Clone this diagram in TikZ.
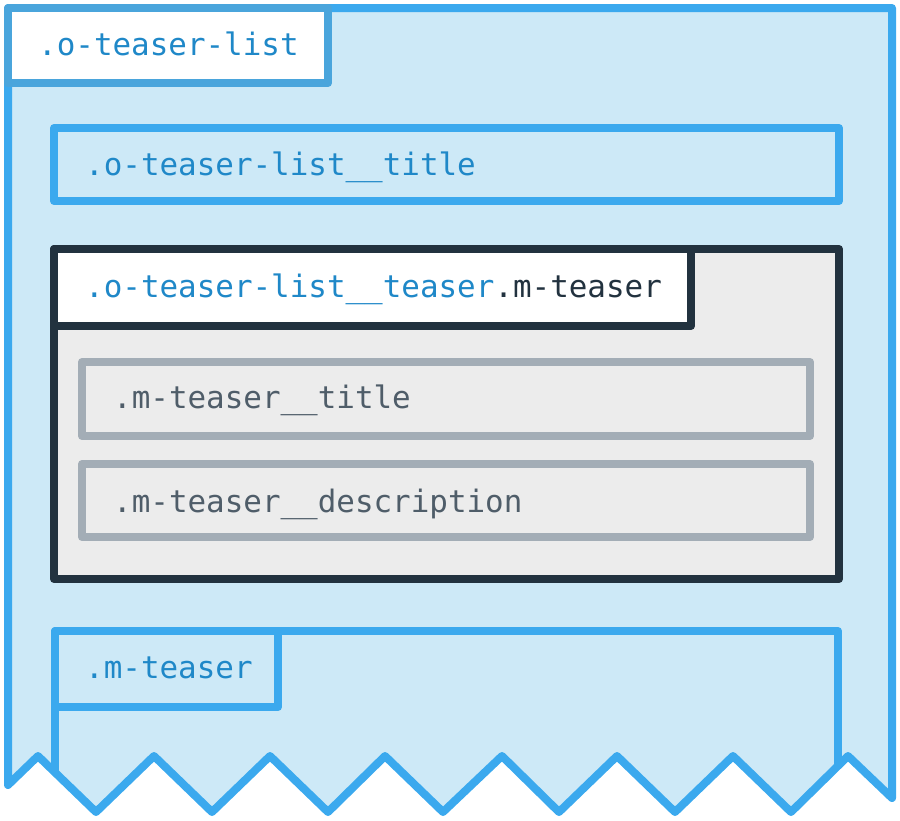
\documentclass[tikz,border=0pt]{standalone}
\usepackage{fontspec}
\setmonofont{DejaVu Sans Mono}
\definecolor{bluestroke}{HTML}{3BA9EE}
\definecolor{tabstroke}{HTML}{4AA5DC}
\definecolor{bluefill}{HTML}{CDE9F7}
\definecolor{bluetext}{HTML}{1F88C8}
\definecolor{darkstroke}{HTML}{22323F}
\definecolor{grayfill}{HTML}{ECECEC}
\definecolor{graystroke}{HTML}{A3ADB6}
\definecolor{graytext}{HTML}{4F5D69}
\tikzset{
  lw/.style={line width=8pt, line join=round},
  boxbase/.style={lw, rectangle, inner sep=0pt, outer sep=0pt, anchor=north west},
  bluebox/.style={boxbase, draw=bluestroke, fill=bluefill},
  whitetab/.style={boxbase, draw=tabstroke, fill=white},
  darkbox/.style={boxbase, draw=darkstroke, fill=grayfill},
  darktab/.style={boxbase, draw=darkstroke, fill=white},
  graybox/.style={boxbase, draw=graystroke, fill=grayfill},
  lbl/.style={anchor=base west, inner sep=0pt, font=\ttfamily\fontsize{30.9}{36}\selectfont},
}
\begin{document}
\begin{tikzpicture}[x=1pt,y=-1pt]
\useasboundingbox (0,0) rectangle (900,820);
% outer container with torn bottom edge
\draw[lw, draw=bluestroke, fill=bluefill]
  (8,8) -- (892,8) -- (892,798) -- (848,756) -- (791,812) -- (733,756) -- (675,812)
  -- (617,756) -- (559,812) -- (502,756) -- (443,812) -- (385,756) -- (328,812)
  -- (270,756) -- (212,812) -- (154,756) -- (96,812) -- (38,756) -- (8,785) -- cycle;
% outer tab
\node[whitetab, minimum width=320pt, minimum height=75pt] (outertab) at (8,8) {};
\node[lbl, text=bluetext] (outerlbl) at (38,55) {.o-teaser-list};
% title box
\node[bluebox, minimum width=785pt, minimum height=73pt] (titlebox) at (54,128) {};
\node[lbl, text=bluetext] (titlelbl) at (85,175) {.o-teaser-list\_\_title};
% teaser box
\node[darkbox, minimum width=785pt, minimum height=330pt] (teaserbox) at (54,249) {};
\node[darktab, minimum width=637pt, minimum height=77pt] (teasertab) at (54,249) {};
\node[lbl] (teaserlbl) at (85,297) {\textcolor{bluetext}{.o-teaser-list\_\_teaser}\textcolor{darkstroke}{.m-teaser}};
% inner gray boxes
\node[graybox, minimum width=728pt, minimum height=74pt] (mtitle) at (82,362) {};
\node[lbl, text=graytext] (mtitlelbl) at (113,408) {.m-teaser\_\_title};
\node[graybox, minimum width=728pt, minimum height=73pt] (mdesc) at (82,464) {};
\node[lbl, text=graytext] (mdesclbl) at (113,512) {.m-teaser\_\_description};
% bottom partial teaser
\coordinate (bl) at (55,772);
\coordinate (br) at (838,766);
\draw[lw, draw=bluestroke] (bl) -- (55,631) -- (838,631) -- (br);
\node[boxbase, draw=bluestroke, minimum width=223pt, minimum height=76pt] (bottomtab) at (55,631) {};
\node[lbl, text=bluetext] (bottomlbl) at (85,678) {.m-teaser};
\end{tikzpicture}
\end{document}
